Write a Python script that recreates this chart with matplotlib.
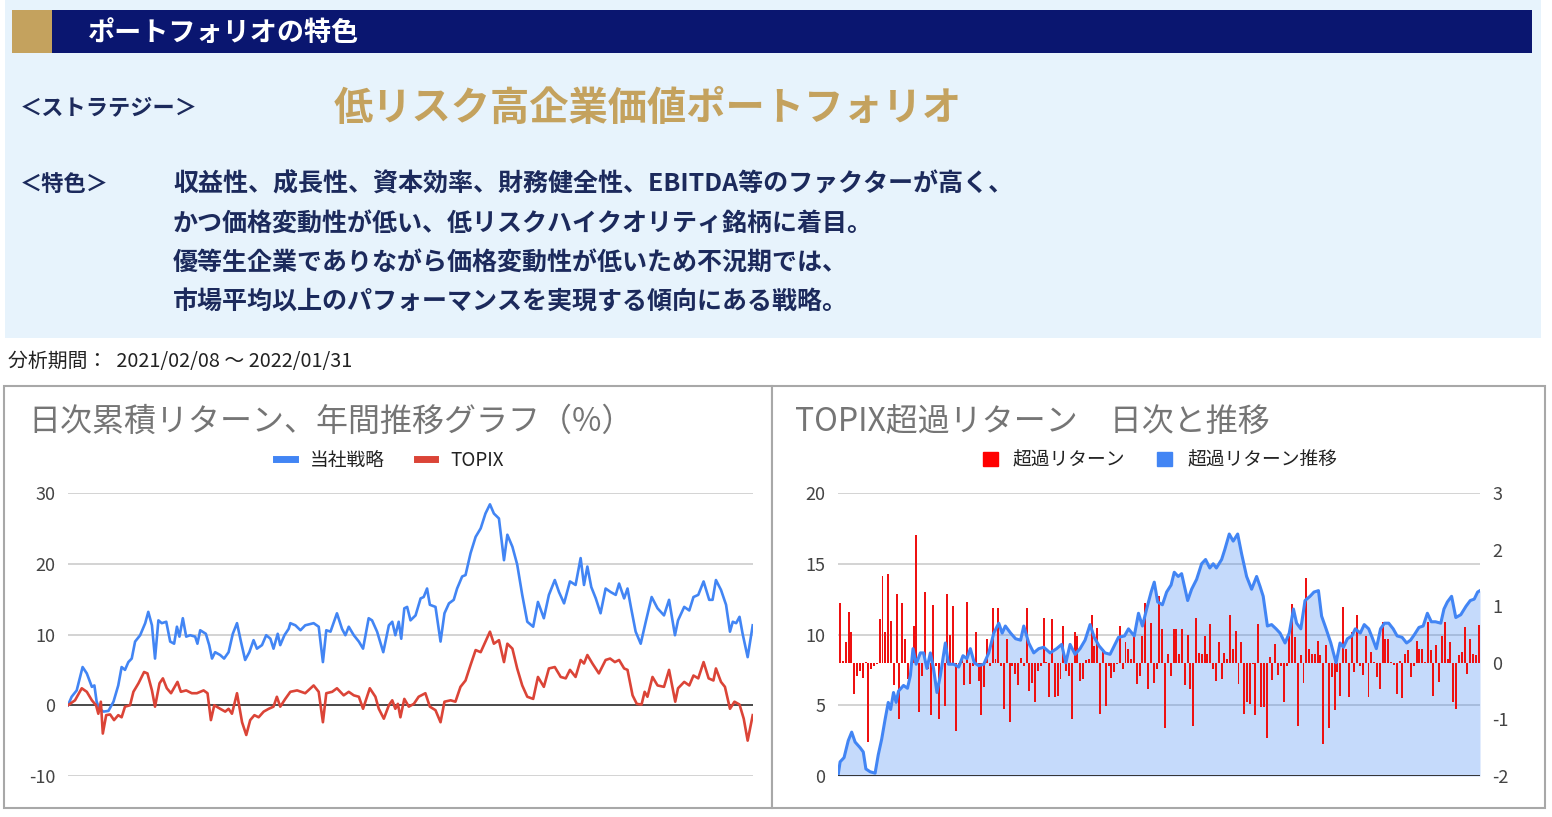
import matplotlib
matplotlib.use('Agg')
import matplotlib.pyplot as plt  # noqa
from matplotlib.patches import Rectangle, Patch
from matplotlib.lines import Line2D
import numpy as np

plt.rcParams['font.family'] = ['Noto Sans CJK JP', 'DejaVu Sans']
plt.rcParams['axes.unicode_minus'] = False

W, H = 1552, 817

# ---- text ----
header = 'ポートフォリオの特色'
strategy_label = '＜ストラテジー＞'
strategy_name = '低リスク高企業価値ポートフォリオ'
feature_label = '＜特色＞'
feature_lines = [
    '収益性、成長性、資本効率、財務健全性、EBITDA等のファクターが高く、',
    'かつ価格変動性が低い、低リスクハイクオリティ銘柄に着目。',
    '優等生企業でありながら価格変動性が低いため不況期では、',
    '市場平均以上のパフォーマンスを実現する傾向にある戦略。',
]
period = '分析期間：  2021/02/08 ～ 2022/01/31'

# ---- left chart: cumulative return (%), trading day index ----
strategy_day = [
    0, 1.3, 3.1, 5.2, 6.7, 8.5, 9.4, 10.2, 11.2, 12.6, 14.4, 16.2, 17.9, 19.1,
    20.3, 21.5, 22.7, 23.9, 25.7, 27.5, 28.6, 29.9, 31.0, 32.2, 33.4, 35.0,
    36.4, 37.8, 38.8, 39.7, 40.9, 42.1, 43.5, 45.3, 46.1, 47.1, 49.1, 50.3,
    51.3, 52.4, 54.2, 55.6, 57.2, 58.7, 60.2, 61.6, 63.1, 64.6, 66.1, 67.3,
    69.1, 70.6, 72.1, 73.2, 74.7, 75.6, 77.1, 78.6, 79.2, 81.0, 82.8, 84.5,
    87.5, 89.3, 90.8, 92.0, 93.5, 95.8, 97.6, 98.8, 100.0, 101.8, 103.6,
    105.1, 107.1, 108.3, 110.1, 112.3, 114.3, 115.5, 116.6, 117.8, 118.7,
    119.8, 120.8, 122.0, 123.8, 125.6, 126.7, 127.9, 128.9, 130.9, 132.7,
    134.1, 135.7, 137.4, 138.6, 140.4, 141.6, 143.4, 145.2, 147.0, 148.7,
    150.3, 151.7, 153.5, 155.3, 156.5, 158.3, 160.0, 161.8, 163.6, 165.7,
    167.4, 169.5, 171.3, 173.4, 174.9, 176.7, 178.8, 180.8, 182.6, 183.8,
    185.0, 186.4, 188.0, 189.7, 191.5, 193.3, 195.1, 196.3, 198.1, 199.3,
    200.5, 202.2, 204.0, 205.8, 207.9, 210.0, 212.3, 214.1, 216.2, 217.3,
    219.5, 221.3, 222.8, 224.5, 226.4, 228.4, 229.6, 230.8, 232.6, 234.4,
    235.8, 236.8, 238.0, 239.2, 240.3, 242.1, 243.9,
]
strategy_ret = [
    0, 1.2, 2.1, 5.4, 4.5, 2.6, 2.8, 0.5, -0.5, -0.9, -0.8, 0.5, 2.8, 5.4,
    5.0, 6.1, 6.6, 9.0, 9.9, 11.6, 13.2, 11.3, 6.6, 12.0, 11.6, 11.8,
    9.0, 8.7, 11.1, 9.7, 12.3, 9.7, 9.9, 9.7, 8.7, 10.6, 10.1, 8.5,
    6.6, 7.5, 7.1, 6.6, 7.5, 10.1, 11.6, 9.0, 6.4, 7.5, 9.2, 8.0,
    8.5, 9.9, 9.4, 8.0, 10.1, 8.5, 9.9, 10.8, 11.6, 11.3, 10.6, 11.3,
    11.6, 11.1, 6.1, 10.6, 10.4, 13.0, 10.8, 9.9, 11.1, 9.9, 9.0,
    8.0, 12.3, 12.0, 10.4, 7.5, 11.3, 11.8, 9.9, 11.8, 9.4,
    13.7, 13.9, 12.0, 12.7, 15.1, 15.3, 16.5, 14.2, 13.9, 9.0,
    13.0, 14.4, 14.9, 16.5, 18.2, 18.4, 21.5, 23.8, 25.0, 27.1,
    28.4, 27.1, 26.4, 20.5, 24.1, 22.4, 19.9, 15.6, 11.8, 11.1,
    14.6, 12.3, 15.6, 17.7, 16.0, 14.4, 17.5, 17.0, 20.8, 17.0,
    19.6, 16.7, 15.1, 13.0, 16.5, 16.0, 15.6, 17.2, 15.1, 16.5,
    13.9, 10.4, 8.7, 11.8, 15.3, 13.7, 12.7, 14.9, 9.9, 12.0,
    13.9, 13.4, 15.3, 15.6, 17.5, 14.9, 14.9, 17.7, 16.3, 14.2,
    10.4, 11.8, 11.6, 12.5, 10.1, 6.8, 11.3,
]
topix_day = [
    0, 2.5, 4.9, 6.7, 8.5, 10.0, 10.8, 11.7, 12.4, 13.6, 15.0, 16.4, 17.9,
    19.1, 20.3, 22.1, 23.3, 25.1, 27.1, 28.3, 29.9, 31.0, 32.6, 33.8, 35.2,
    36.7, 39.0, 40.2, 42.1, 44.1, 45.9, 48.3, 49.7, 50.9, 52.1, 54.2, 56.0,
    57.2, 58.4, 60.2, 62.0, 63.5, 64.9, 66.4, 67.9, 69.7, 71.5, 73.2, 74.4,
    75.6, 77.4, 79.2, 81.6, 84.5, 87.5, 89.3, 90.8, 92.0, 94.1, 95.8, 98.2,
    100.0, 101.8, 103.6, 105.1, 107.5, 109.5, 110.7, 112.5, 114.3, 115.5,
    116.6, 117.5, 118.4, 119.8, 121.4, 123.2, 124.9, 127.3, 128.9, 130.9,
    132.7, 134.1, 136.3, 138.0, 139.8, 141.6, 143.4, 145.2, 147.0, 148.7,
    150.3, 151.7, 153.5, 155.3, 156.5, 158.3, 160.0, 161.8, 163.6, 165.7,
    167.4, 169.5, 171.3, 173.4, 175.5, 177.3, 178.8, 180.8, 182.6, 183.8,
    185.0, 186.8, 189.1, 191.5, 193.1, 194.8, 196.3, 198.1, 199.3, 201.1,
    202.6, 204.3, 205.4, 206.4, 208.2, 210.0, 212.3, 214.1, 216.3, 217.3,
    219.5, 221.3, 222.8, 224.5, 226.4, 228.2, 229.9, 230.8, 232.6, 234.0,
    235.8, 237.4, 239.2, 240.7, 242.1, 243.9,
]
topix_ret = [
    0, 0.7, 2.4, 1.9, 0.7, 0, -1.2, 0.5, -4.0, -1.4, -1.3, -2.1, -1.4,
    -1.7, -0.2, 0, 1.9, 3.1, 4.7, 4.5, 2.1, -0.2, 3.1, 3.8, 2.4,
    1.7, 3.3, 1.9, 2.1, 1.7, 1.7, 2.1, 1.7, -2.1, 0, -0.5, -0.9,
    -0.5, -1.2, 1.7, -2.4, -4.2, -2.1, -1.4, -1.7, -0.9, -0.5, -0.2, 1.2,
    -0.2, 0.9, 1.9, 2.1, 1.7, 2.8, 1.9, -2.4, 1.7, 1.9, 2.4, 1.4,
    1.9, 1.4, 1.2, -0.5, 2.4, 1.2, -0.5, -1.9, 0, 0.7,
    -0.5, 0.2, -1.7, 0.9, -0.2, 0.2, 1.2, 1.7, -0.2, -0.7,
    -2.4, 0.5, 0.7, 0.5, 2.6, 3.5, 5.7, 7.8, 7.5, 9.0,
    10.4, 8.7, 9.2, 6.1, 8.7, 8.0, 5.2, 2.8, 1.2, 0.9,
    4.0, 2.6, 5.2, 5.4, 4.0, 3.8, 5.0, 4.0, 6.4, 5.9,
    7.1, 5.9, 4.5, 6.4, 6.6, 6.1, 6.4, 5.2, 5.0, 1.4,
    0.2, 0.1, 1.9, 1.2, 4.0, 2.8, 2.6, 5.0, 0.5, 2.4,
    3.3, 2.8, 4.2, 3.8, 6.1, 3.8, 3.5, 5.2, 3.3, 2.6,
    -0.5, 0.5, 0.1, -1.9, -5.0, -1.4,
]

# ---- right chart: excess return vs TOPIX ----
excess_day = [
    0, 0.8, 2.3, 3.9, 5.2, 6.5, 8.4, 9.6, 10.6, 12.2, 14.1, 15.3, 16.6, 17.9,
    19.1, 20.0, 21.1, 22.1, 23.0, 24.9, 26.4, 27.5, 28.5, 29.7, 31.3, 32.5,
    33.8, 35.1, 36.3, 37.6, 38.9, 40.8, 42.0, 44.0, 45.9, 47.5, 49.0, 50.3,
    51.8, 53.5, 55.4, 57.3, 59.2, 61.1, 62.4, 63.6, 65.6, 67.5, 69.4, 70.6,
    72.5, 74.4, 76.3, 78.2, 80.6, 83.1, 85.0, 86.6, 88.2, 90.1, 92.0, 93.9,
    95.8, 97.4, 99.2, 101.5, 103.4, 105.0, 106.6, 108.9, 110.4, 112.6,
    114.2, 115.7, 117.3, 119.0, 120.2, 121.5, 123.3, 124.9, 126.6, 127.8,
    129.3, 130.6, 132.9, 134.4, 136.3, 138.2, 139.7, 141.3, 142.6, 143.8,
    145.8, 147.0, 148.7, 150.2, 151.9, 153.4, 155.3, 157.2, 159.1, 160.4,
    161.6, 163.2, 164.8, 166.5, 168.0, 169.9, 171.5, 173.1, 174.3, 175.9,
    177.5, 179.4, 180.9, 182.6, 183.8, 185.5, 187.3, 189.3, 190.8, 192.1,
    193.6, 195.3, 196.6, 198.5, 200.0, 201.7, 203.0, 204.6, 206.2, 207.7,
    209.3, 211.0, 212.5, 214.4, 216.1, 217.6, 219.1, 220.8, 222.4, 224.0,
    225.5, 227.1, 229.1, 230.3, 231.6, 233.2, 234.8, 236.7, 238.7, 240.3,
    241.8, 243.1, 244.0,
]
excess_cum = [
    0, 1.0, 1.3, 2.5, 3.1, 2.4, 2.0, 1.7, 0.5, 0.3, 0.2, 1.5, 2.6, 4.0,
    5.2, 4.7, 5.9, 5.2, 6.0, 6.4, 6.2, 7.1, 9.0, 7.9, 8.7, 8.7,
    7.6, 8.7, 7.6, 5.9, 7.1, 9.4, 7.9, 7.9, 7.7, 8.5, 8.3, 9.0,
    8.0, 7.8, 7.9, 8.7, 10.1, 10.8, 10.1, 10.6, 10.1, 9.7, 9.6, 10.6,
    9.4, 8.7, 9.0, 9.1, 8.7, 9.0, 9.3, 8.0, 9.3, 8.6, 9.0, 9.6,
    10.7, 9.8, 9.2, 8.7, 8.6, 9.2, 9.8, 9.9, 10.4, 9.9,
    11.5, 10.6, 11.8, 13.0, 13.7, 12.3, 12.1, 13.0, 13.5, 14.4,
    14.1, 14.3, 12.4, 13.2, 13.9, 15.0, 15.3, 14.7, 15.0, 14.7,
    15.3, 16.0, 17.1, 16.6, 17.1, 15.7, 14.1, 13.2, 14.1, 13.4,
    12.7, 10.6, 10.7, 10.4, 10.1, 9.4, 10.1, 11.8, 10.8, 10.4,
    12.4, 12.7, 13.0, 13.1, 11.3, 10.4, 9.4, 8.0, 9.4, 9.1,
    9.7, 9.9, 10.4, 10.1, 10.7, 10.4, 9.8, 9.0, 10.4, 10.8,
    10.8, 10.4, 9.9, 9.8, 9.4, 9.6, 10.0, 10.5, 10.6, 11.5,
    10.9, 10.9, 10.8, 11.8, 12.3, 12.7, 11.2, 11.4, 12.0, 12.4,
    12.5, 13.0, 13.1,
]
excess_daily = [
    1.06, 0.04, 0.36, 0.90, 0.55, -0.55, -0.23, -0.14, -0.26, 0.02, -1.40,
    -0.11, -0.05, -0.02, 0.77, 1.54, 0.55, 1.57, 0.74, -0.40, 1.22, -0.99,
    1.06, 0.42, -0.29, -0.11, 0.65, 2.25, -0.87, -0.23, 1.25, -0.11, -0.93,
    1.02, -0.05, -0.99, -0.11, -0.76, 1.21, 0.50, 1.00, -1.20, -0.05, 0.11,
    -0.40, 1.08, -0.38, -0.05, 0.55, -0.32, -0.92, -0.43, 0.42, -0.05, 0.96,
    0.06, 0.96, -0.05, -0.82, 0.42, -1.04, -0.05, -0.20, -0.40, 0.08, -0.05,
    0.96, -0.49, -0.35, -0.70, -0.14, -0.05, 0.80, 0.02, -0.61, 0.77,
    -0.61, -0.58, -0.29, 0.65, -0.14, -0.23, -0.99, 0.55, 0.48, -0.33, -0.29,
    0.05, 0.06, 0.84, 0.30, 0.62, -0.90, 0.24, -0.76, -0.05, -0.26, -0.17,
    -0.02, 0.65, -0.11, 0.36, 0.24, 0.06, 0.48, -0.38, -0.23, 0.48, 1.06,
    -0.46, 0.71, -0.35, -0.11, 1.18, 0.59, -1.16, 0.15, -0.23, 0.59, 0.60,
    0.15, 0.60, -0.40, 0.49, -0.46, -1.12, 0.80, 0.18, 0.15, 0.48, 0.15,
    0.68, -0.11, -0.33, 0.36, -0.29, 0.18, 0.06, 0.84, 0.24, 0.56, -0.38,
    0.36, -0.90, -0.70, -0.73, -0.02, -0.93, 0.68,
    -0.78, -0.78, -1.33, 0.10, -0.31, 0.33, -0.22, -0.05, -0.69, -0.05, 0.48,
    1.04, 0.45, -1.12, 0.13, -0.35, 1.49, 0.25, 0.16, 0.16, 0.39, 0.13,
    -1.44, 0.31, -1.16, -0.25, -0.84, -0.16, -0.58, 0.98, 0.25, -0.60, 0.54,
    -0.16, 0.85, -0.05, -0.22, 0.48, -0.60, 0.19, 0.02, -0.25, -0.46, 0.72,
    0.42, 0.42, 0.02, -0.04, -0.55, 0.04, -0.63, 0.16, 0.22, -0.25, -0.05,
    0.39, 0.25, 0.25, 0.02, 0.72, 0.22, -0.58, 0.31, -0.34, 0.48, 0.72,
    0.07, 0.36, -0.69, -0.81, 0.13, 0.19, 0.63, -0.19, 0.42, 0.16, 0.13,
    0.66,
]

BLUE = '#4285f4'
RED = '#db4437'
BAR_RED = '#ee1111'
NAVY = '#0a1670'
GOLD = '#c4a25e'
TEXT_NAVY = '#1c2a5c'


def fx(x):
    return x / W


def fy(y):
    return 1 - y / H


def box(x0, y0, x1, y1, **kw):
    r = Rectangle((fx(x0), fy(y1)), fx(x1) - fx(x0), fy(y0) - fy(y1),
                  transform=fig.transFigure, **kw)
    fig.add_artist(r)


fig = plt.figure(figsize=(W / 100, H / 100), dpi=100)

# header panel
box(5, 0, 1541, 338, facecolor='#e7f3fc', edgecolor='none', zorder=0)
box(12, 10, 1532, 53, facecolor=NAVY, edgecolor='none', zorder=1)
box(12, 10, 52, 53, facecolor=GOLD, edgecolor='none', zorder=2)
fig.text(fx(88), fy(33), header, color='white', fontsize=19.5,
         fontweight='bold', va='center', zorder=3)
fig.text(fx(20), fy(108), strategy_label, color=TEXT_NAVY, fontsize=16,
         fontweight='bold', va='center')
fig.text(fx(334), fy(108), strategy_name, color=GOLD, fontsize=28.3,
         fontweight='bold', va='center')
fig.text(fx(20), fy(184), feature_label, color=TEXT_NAVY, fontsize=16,
         fontweight='bold', va='center')
for i, line in enumerate(feature_lines):
    fig.text(fx(173), fy(184 + 39.4 * i), line, color=TEXT_NAVY,
             fontsize=18, fontweight='bold', va='center')
fig.text(fx(8), fy(362), period, color='#222222', fontsize=14.3,
         va='center')

# chart frames
box(4, 386, 772, 808, facecolor='white', edgecolor='#a8a8a8', lw=1.5,
    zorder=0)
box(772, 386, 1545, 808, facecolor='white', edgecolor='#a8a8a8', lw=1.5,
    zorder=0)

title_kw = dict(color='#757575', fontsize=23, va='center')
fig.text(fx(28), fy(422), '日次累積リターン、年間推移グラフ（%）', **title_kw)
fig.text(fx(795), fy(422), 'TOPIX超過リターン　日次と推移', **title_kw)

tick_kw = dict(length=0, labelsize=13, labelcolor='#444444')

# left chart
ax1 = fig.add_axes([fx(68), fy(776), fx(753) - fx(68), fy(493) - fy(776)])
ax1.plot(strategy_day, strategy_ret, color=BLUE, lw=1.9, zorder=3)
ax1.plot(topix_day, topix_ret, color=RED, lw=1.9, zorder=3)
ax1.set_xlim(0, 244)
ax1.set_ylim(-10, 30)
ax1.set_yticks([-10, 0, 10, 20, 30])
ax1.set_xticks([])
ax1.yaxis.grid(True, color='#cccccc', lw=1.2)
ax1.axhline(0, color='#333333', lw=1.2, zorder=2)
ax1.tick_params(axis='y', pad=9, **tick_kw)
for s in ax1.spines.values():
    s.set_visible(False)

fig.legend(handles=[Line2D([], [], color=BLUE, lw=5),
                    Line2D([], [], color=RED, lw=5)],
           labels=['当社戦略', 'TOPIX'], loc='center',
           bbox_to_anchor=(fx(390), fy(460)), ncol=2, frameon=False,
           fontsize=13.5, handlelength=1.0, handletextpad=0.8,
           columnspacing=1.7, labelcolor='#222222')

# right chart
ax2 = fig.add_axes([fx(838), fy(776), fx(1480) - fx(838), fy(493) - fy(776)])
ax3 = ax2.twinx()
ax2.fill_between(excess_day, excess_cum, 0, color=BLUE, alpha=0.3, lw=0)
ax2.set_xlim(0, 244)
ax2.set_ylim(0, 20)
ax2.set_yticks([0, 5, 10, 15, 20])
ax2.set_xticks([])
ax2.yaxis.grid(True, color='#cccccc', lw=1.2)
ax2.set_axisbelow(True)
ax2.tick_params(axis='y', pad=9, **tick_kw)

bar_x = np.linspace(0.8, 243.5, len(excess_daily))
ax3.bar(bar_x, excess_daily, width=0.75, color=BAR_RED, lw=0, zorder=2)
ax3.plot(excess_day, excess_cum, color=BLUE, lw=2.2, zorder=3,
         transform=ax2.transData)
ax3.axhline(-2, color='#333333', lw=1.4, zorder=4)
ax3.set_xlim(0, 244)
ax3.set_ylim(-2, 3)
ax3.set_yticks([-2, -1, 0, 1, 2, 3])
ax3.tick_params(axis='y', pad=9, **tick_kw)
for a in (ax2, ax3):
    for s in a.spines.values():
        s.set_visible(False)

fig.legend(handles=[Patch(color='#ff0000'), Patch(color=BLUE)],
           labels=['超過リターン', '超過リターン推移'], loc='center',
           bbox_to_anchor=(fx(1160), fy(460)), ncol=2, frameon=False,
           fontsize=13.5, handlelength=0.8, handleheight=0.8,
           handletextpad=0.8, columnspacing=1.7, labelcolor='#222222')

fig.savefig('out.png', dpi=100)
